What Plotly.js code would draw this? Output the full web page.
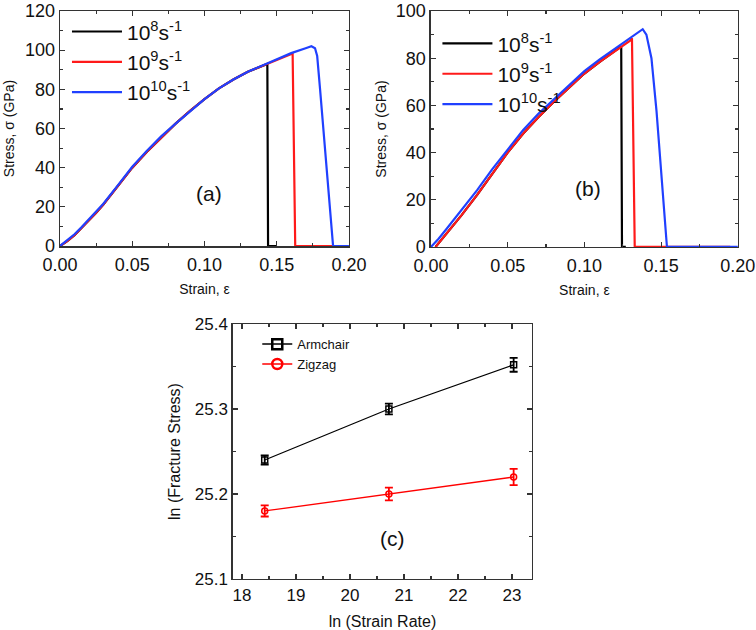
<!DOCTYPE html>
<html>
<head>
<meta charset="utf-8">
<script src="https://cdn.plot.ly/plotly-3.0.1.min.js"></script>
<style>html,body{margin:0;padding:0;background:#fff;}#chart{width:756px;height:630px;}</style>
</head>
<body>
<div id="chart"></div>
<script>
// ---- Panel (a) : armchair stress-strain ----
const strainA8 = [0, 0.005, 0.01, 0.015, 0.02, 0.025, 0.03, 0.04, 0.05, 0.06, 0.07, 0.08, 0.09, 0.10, 0.11, 0.12, 0.13, 0.14, 0.1435, 0.144, 0.15];
const stressA8 = [0, 2.5, 5.5, 9.2, 13, 17, 21.2, 30.5, 40, 48, 55.5, 62.5, 69, 75, 80.5, 85, 89, 92, 93, 0, 0];
const strainA9 = [0, 0.005, 0.01, 0.015, 0.02, 0.025, 0.03, 0.04, 0.05, 0.06, 0.07, 0.08, 0.09, 0.10, 0.11, 0.12, 0.13, 0.14, 0.15, 0.16, 0.161, 0.1628, 0.19];
const stressA9 = [0, 2.5, 5.5, 9.2, 13, 17, 21.2, 30.5, 40, 48, 55.5, 62.5, 69, 75, 80.5, 85, 89, 92, 95.3, 98, 98.3, 0, 0];
const strainA10 = [0, 0.005, 0.01, 0.015, 0.02, 0.025, 0.03, 0.04, 0.05, 0.06, 0.07, 0.08, 0.09, 0.10, 0.11, 0.12, 0.13, 0.14, 0.15, 0.16, 0.17, 0.174, 0.1765, 0.178, 0.18, 0.1834, 0.187, 0.189, 0.2];
const stressA10 = [0, 3, 6, 9.7, 13.5, 17.4, 21.6, 31, 40.5, 48.5, 56, 62.5, 69, 75, 80.5, 85, 89, 92.3, 95.5, 98.5, 101, 102, 101, 97, 80, 48, 16, 0, 0];

// ---- Panel (b) : zigzag stress-strain ----
const strainB8 = [0.003, 0.01, 0.02, 0.03, 0.04, 0.05, 0.06, 0.07, 0.08, 0.09, 0.10, 0.11, 0.12, 0.124, 0.1245, 0.127];
const stressB8 = [0, 5.5, 13.5, 22, 31, 40, 48, 55, 61.5, 67.5, 73.5, 78.5, 83, 85, 0, 0];
const strainB9 = [0.003, 0.01, 0.02, 0.03, 0.04, 0.05, 0.06, 0.07, 0.08, 0.09, 0.10, 0.11, 0.12, 0.13, 0.131, 0.1328, 0.195];
const stressB9 = [0, 5.5, 13.5, 22, 31, 40, 48, 55, 61.5, 67.5, 73.5, 78.5, 83, 87.5, 88.5, 0, 0];
const strainB10 = [0, 0.005, 0.01, 0.02, 0.03, 0.04, 0.05, 0.06, 0.07, 0.08, 0.09, 0.10, 0.11, 0.12, 0.13, 0.136, 0.138, 0.1404, 0.1437, 0.147, 0.150, 0.1523, 0.1538, 0.2];
const stressB10 = [0, 3.5, 7.5, 15.5, 24, 33, 41.5, 49.5, 56.5, 62.5, 68.5, 74.5, 79.5, 84, 88.5, 91.5, 92.3, 90, 80, 57.6, 33.7, 12.6, 0, 0];

// ---- Panel (c) : ln(fracture stress) vs ln(strain rate) ----
const lnRate = [18.42, 20.72, 23.03];
const armchair = [25.24, 25.30, 25.352];
const armchairErr = [0.0053, 0.0063, 0.0082];
const zigzag = [25.18, 25.20, 25.22];
const zigzagErr = [0.0065, 0.0075, 0.0096];

const rateLabels = ['10<sup>8</sup>s<sup>-1</sup>', '10<sup>9</sup>s<sup>-1</sup>', '10<sup>10</sup>s<sup>-1</sup>'];
const cBlack = '#000000', cRed = '#ff1a1a', cBlue = '#2040ff';
const FONT = 'Liberation Sans, Arial, sans-serif';

function curve(x, y, name, color, xa, ya, lg) {
  return {x: x, y: y, name: name, type: 'scatter', mode: 'lines', line: {color: color, width: 2.2},
    xaxis: xa, yaxis: ya, legend: lg};
}

const traces = [
  curve(strainA8, stressA8, rateLabels[0], cBlack, 'x', 'y', 'legend'),
  curve(strainA9, stressA9, rateLabels[1], cRed, 'x', 'y', 'legend'),
  curve(strainA10, stressA10, rateLabels[2], cBlue, 'x', 'y', 'legend'),
  curve(strainB8, stressB8, rateLabels[0], cBlack, 'x2', 'y2', 'legend2'),
  curve(strainB9, stressB9, rateLabels[1], cRed, 'x2', 'y2', 'legend2'),
  curve(strainB10, stressB10, rateLabels[2], cBlue, 'x2', 'y2', 'legend2'),
  {x: lnRate, y: armchair, type: 'scatter', mode: 'lines+markers', name: 'Armchair', showlegend: false,
   xaxis: 'x3', yaxis: 'y3', line: {color: '#000', width: 1.3},
   marker: {symbol: 'square-open', size: 6, color: '#000', line: {width: 1.5}},
   error_y: {type: 'data', array: armchairErr, visible: true, color: '#000', thickness: 1.8, width: 4}},
  {x: lnRate, y: zigzag, type: 'scatter', mode: 'lines+markers', name: 'Zigzag', showlegend: false,
   xaxis: 'x3', yaxis: 'y3', line: {color: '#ff0000', width: 1.3},
   marker: {symbol: 'circle-open', size: 6, color: '#ff0000', line: {width: 1.5}},
   error_y: {type: 'data', array: zigzagErr, visible: true, color: '#ff0000', thickness: 1.8, width: 4}},
  // legend entries for panel (c)
  {x: [null], y: [null], type: 'scatter', mode: 'lines+markers', name: 'Armchair', xaxis: 'x3', yaxis: 'y3', legend: 'legend3',
   line: {color: '#000', width: 1.5}, marker: {symbol: 'square-open', size: 10, color: '#000', line: {width: 2.5}}},
  {x: [null], y: [null], type: 'scatter', mode: 'lines+markers', name: 'Zigzag', xaxis: 'x3', yaxis: 'y3', legend: 'legend3',
   line: {color: '#ff0000', width: 1.5}, marker: {symbol: 'circle-open', size: 10, color: '#ff0000', line: {width: 2.5}}}
];

function axis(opts) {
  return Object.assign({
    showgrid: false, zeroline: false, showline: true, linecolor: '#333', linewidth: 1.5,
    mirror: 'allticks', ticks: 'inside', ticklen: 5, tickwidth: 1.2, tickcolor: '#333',
    tickfont: {family: FONT, size: 18, color: '#111'}, ticklabeloverflow: 'allow',
    automargin: false
  }, opts);
}

const layout = {
  width: 756, height: 630,
  margin: {l: 0, r: 0, t: 0, b: 0},
  paper_bgcolor: '#fff', plot_bgcolor: '#fff',
  font: {family: FONT, color: '#111'},
  xaxis: axis({domain: [0.0794, 0.4616], anchor: 'y', range: [0, 0.2], dtick: 0.05, tickformat: '.2f', ticklabelstandoff: 2,
    minor: {ticks: 'inside', ticklen: 3, dtick: 0.025, tickcolor: '#333'},
    title: {text: 'Strain, \u03b5', font: {family: FONT, size: 14}, standoff: 10}}),
  yaxis: axis({domain: [0.6095, 0.9825], anchor: 'x', range: [0, 120], dtick: 20,
    minor: {ticks: 'inside', ticklen: 3, dtick: 10, tickcolor: '#333'},
    title: {text: 'Stress, \u03c3 (GPa)', font: {family: FONT, size: 14}, standoff: 7}}),
  xaxis2: axis({domain: [0.570, 0.976], anchor: 'y2', range: [0, 0.2], dtick: 0.05, tickformat: '.2f', ticklabelstandoff: 2,
    minor: {ticks: 'inside', ticklen: 3, dtick: 0.025, tickcolor: '#333'},
    title: {text: 'Strain, \u03b5', font: {family: FONT, size: 14}, standoff: 10}}),
  yaxis2: axis({domain: [0.608, 0.9825], anchor: 'x2', range: [0, 100], dtick: 20,
    minor: {ticks: 'inside', ticklen: 3, dtick: 10, tickcolor: '#333'},
    title: {text: 'Stress, \u03c3 (GPa)', font: {family: FONT, size: 14}, standoff: 6}}),
  xaxis3: axis({domain: [0.308, 0.7037], anchor: 'y3', range: [17.83, 23.37], dtick: 1,
    tickfont: {family: FONT, size: 17, color: '#111'},
    minor: {ticks: 'inside', ticklen: 3, dtick: 0.5, tickcolor: '#333'},
    title: {text: 'ln (Strain Rate)', font: {family: FONT, size: 16}, standoff: 14}}),
  yaxis3: axis({domain: [0.081, 0.4857], anchor: 'x3', range: [25.1, 25.4], dtick: 0.1, tickformat: '.1f',
    tickfont: {family: FONT, size: 17, color: '#111'},
    minor: {ticks: 'inside', ticklen: 3, dtick: 0.05, tickcolor: '#333'},
    title: {text: 'ln (Fracture Stress)', font: {family: FONT, size: 16}, standoff: 10}}),
  legend: {x: 0.0886, y: 0.982, xanchor: 'left', yanchor: 'top', bgcolor: 'rgba(0,0,0,0)',
    font: {family: FONT, size: 21, color: '#111'}, itemwidth: 50, tracegroupgap: 0},
  legend2: {x: 0.5786, y: 0.963, xanchor: 'left', yanchor: 'top', bgcolor: 'rgba(0,0,0,0)',
    font: {family: FONT, size: 21, color: '#111'}, itemwidth: 50, tracegroupgap: 0},
  legend3: {x: 0.3403, y: 0.4775, xanchor: 'left', yanchor: 'top', bgcolor: 'rgba(0,0,0,0)',
    font: {family: FONT, size: 13, color: '#111'}, itemwidth: 30, tracegroupgap: 0},
  annotations: [
    {text: '(a)', xref: 'x', yref: 'y', x: 0.103, y: 27, showarrow: false, font: {family: FONT, size: 21}},
    {text: '(b)', xref: 'x2', yref: 'y2', x: 0.1023, y: 24.8, showarrow: false, font: {family: FONT, size: 21}},
    {text: '(c)', xref: 'x3', yref: 'y3', x: 20.78, y: 25.148, showarrow: false, font: {family: FONT, size: 21}}
  ]
};

Plotly.newPlot('chart', traces, layout, {displayModeBar: false, staticPlot: true});
</script>
</body>
</html>
